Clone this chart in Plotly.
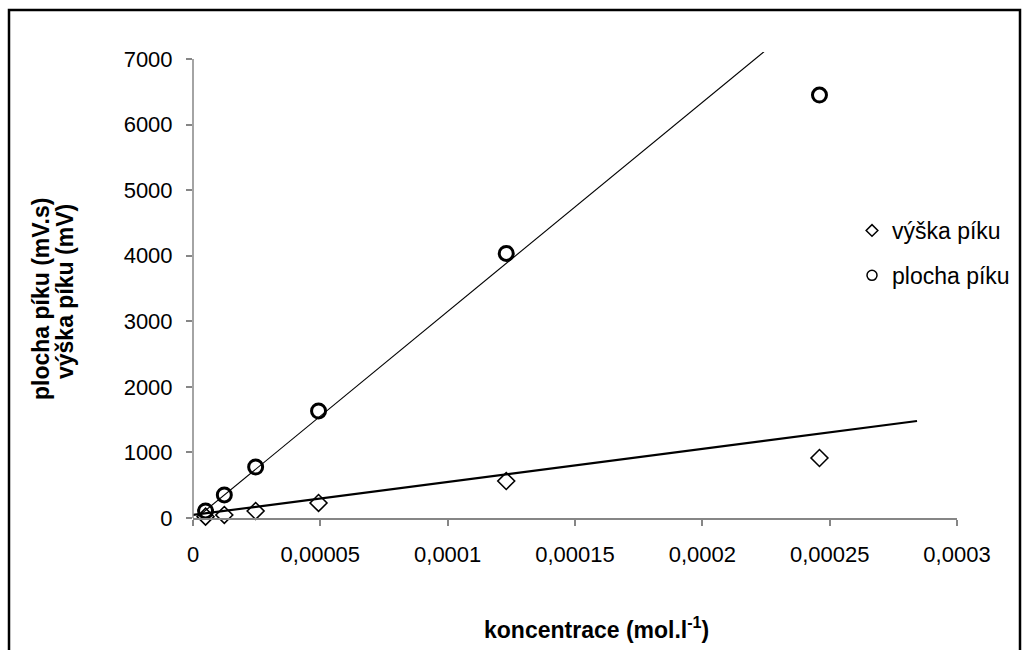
import plotly.graph_objects as go

# ---- data ----
konc = [0.00000493, 0.0000123, 0.0000246, 0.0000493, 0.000123, 0.000246]
vyska = [20, 46, 107, 229, 564, 915]
plocha = [107, 351, 778, 1632, 4035, 6450]

# linear trend lines (slope, intercept, x-range)
vyska_trend_k, vyska_trend_q = 5.04e6, 46
vyska_trend_x = [0.0, 0.0002843]
plocha_trend_k, plocha_trend_q = 3.19e7, -41
plocha_trend_x = [0.0000025, 0.0002242]

x_ticks = [0, 0.00005, 0.0001, 0.00015, 0.0002, 0.00025, 0.0003]
x_ticktext = ["0", "0,00005", "0,0001", "0,00015", "0,0002", "0,00025", "0,0003"]
y_ticks = [0, 1000, 2000, 3000, 4000, 5000, 6000, 7000]
y_ticktext = ["0", "1000", "2000", "3000", "4000", "5000", "6000", "7000"]

legend_names = ["výška píku", "plocha píku"]
x_title = "koncentrace (mol.l<sup>-1</sup>)"
y_title_lines = ["plocha píku (mV.s)", "výška píku (mV)"]

FONT = "Liberation Sans, Arial, sans-serif"
TICKSIZE = 22
LEGSIZE = 23
TITLESIZE = 23
YTITLESIZE = 23
W, H = 1027, 650
L, R, T, B = 193, 70, 52, 132
plot_h = H - T - B
y_top_px = 59
ymax = 7000 * plot_h / (518 - y_top_px)

fig = go.Figure()

fig.add_trace(go.Scatter(
    x=vyska_trend_x, y=[vyska_trend_k * x + vyska_trend_q for x in vyska_trend_x],
    mode="lines", line=dict(color="black", width=2.2), showlegend=False, hoverinfo="skip"))
fig.add_trace(go.Scatter(
    x=plocha_trend_x, y=[plocha_trend_k * x + plocha_trend_q for x in plocha_trend_x],
    mode="lines", line=dict(color="black", width=1.1), showlegend=False, hoverinfo="skip"))

fig.add_trace(go.Scatter(
    x=konc, y=vyska, mode="markers", name=legend_names[0], showlegend=False,
    marker=dict(symbol="diamond-open", size=13, color="black", line=dict(width=1.6, color="black")),
    cliponaxis=False))
fig.add_trace(go.Scatter(
    x=konc, y=plocha, mode="markers", name=legend_names[1], showlegend=False,
    marker=dict(symbol="circle-open", size=14, color="black", line=dict(width=3, color="black")),
    cliponaxis=False))

# legend entries
fig.add_trace(go.Scatter(
    x=[None], y=[None], mode="markers", name=legend_names[0], legendgroup="a",
    marker=dict(symbol="diamond-open", size=9, color="black", line=dict(width=1.5, color="black"))))
fig.add_trace(go.Scatter(
    x=[None], y=[None], mode="markers", name=legend_names[1], legendgroup="b",
    marker=dict(symbol="circle-open", size=10, color="black", line=dict(width=1.5, color="black"))))

def px_x(p):
    return (p - L) / (W - L - R)

def px_y(p):
    return (H - B - p) / plot_h

axis_grey = "#868686"

fig.update_layout(
    width=W, height=H,
    margin=dict(l=L, r=R, t=T, b=B, pad=0),
    paper_bgcolor="white", plot_bgcolor="white",
    font=dict(family=FONT, size=TICKSIZE, color="black"),
    xaxis=dict(range=[0, 0.0003], tickvals=x_ticks, ticktext=x_ticktext,
               showgrid=False, zeroline=False, showline=True, linecolor=axis_grey, linewidth=1.5,
               ticks="outside", ticklen=6, tickcolor=axis_grey, tickwidth=1.5,
               ticklabelstandoff=10, tickfont=dict(size=TICKSIZE)),
    yaxis=dict(range=[0, ymax], tickvals=y_ticks, ticktext=y_ticktext,
               showgrid=False, zeroline=False, showline=False,
               ticks="outside", ticklen=6, tickcolor=axis_grey, tickwidth=1.5,
               ticklabelstandoff=9, tickfont=dict(size=TICKSIZE)),
    showlegend=True,
    legend=dict(x=px_x(852), y=px_y(209), xanchor="left", yanchor="top",
                bgcolor="rgba(0,0,0,0)", font=dict(size=LEGSIZE), tracegroupgap=12,
                itemwidth=30),
    shapes=[
        dict(type="line", xref="paper", yref="paper", x0=0, x1=0, y0=0, y1=px_y(59),
             line=dict(color=axis_grey, width=1.5)),
        dict(type="rect", xref="paper", yref="paper", x0=px_x(9), x1=px_x(1020),
             y0=px_y(665), y1=px_y(10), line=dict(color="black", width=2.5), layer="below"),
    ],
    annotations=[
        dict(text="<b>" + x_title + "</b>", xref="paper", yref="paper",
             x=px_x(596), y=px_y(628), showarrow=False, font=dict(size=TITLESIZE, family=FONT),
             xanchor="center", yanchor="middle"),
        dict(text="<b>" + y_title_lines[0] + "</b>", xref="paper", yref="paper",
             x=px_x(41), y=px_y(299), showarrow=False, textangle=-90,
             font=dict(size=YTITLESIZE, family=FONT), xanchor="center", yanchor="middle"),
        dict(text="<b>" + y_title_lines[1] + "</b>", xref="paper", yref="paper",
             x=px_x(65), y=px_y(292), showarrow=False, textangle=-90,
             font=dict(size=YTITLESIZE, family=FONT), xanchor="center", yanchor="middle"),
    ],
)

fig.write_html("out.html", config={"displayModeBar": False},
               post_script="document.body.style.margin='0';")
